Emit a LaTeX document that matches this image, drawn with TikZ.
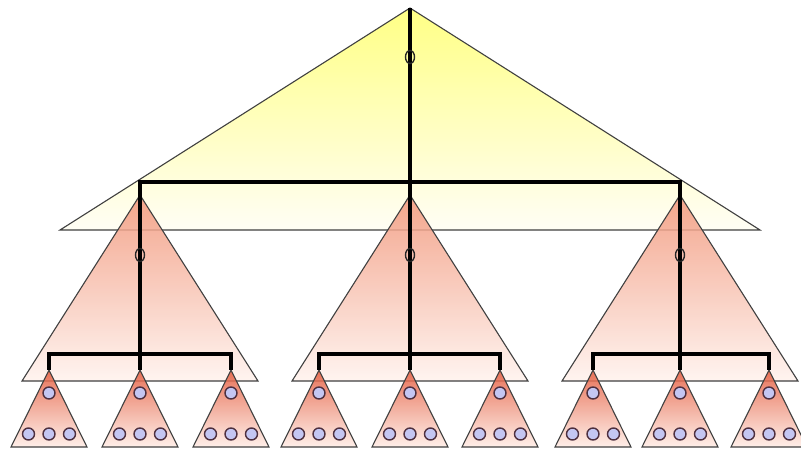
\documentclass[tikz,border=0pt]{standalone}
\usetikzlibrary{shapes.geometric}
\definecolor{yeltop}{HTML}{FFFF70}
\definecolor{yelbot}{HTML}{FFFEF4}
\definecolor{midtop}{HTML}{F2967A}
\definecolor{midbot}{HTML}{FFF3EE}
\definecolor{smtop}{HTML}{E45A3C}
\definecolor{smbot}{HTML}{FFEDE6}
\definecolor{dotfill}{HTML}{C4C6F2}
\definecolor{dotline}{HTML}{4E3040}
\begin{document}
\begin{tikzpicture}[x=1pt,y=-1pt,
  tri/.style={draw=black!75, line width=1.1pt, fill opacity=0.85},
  bigtri/.style={tri, top color=yeltop, bottom color=yelbot},
  midtri/.style={tri, top color=midtop, bottom color=midbot},
  smtri/.style={tri, top color=smtop, bottom color=smbot},
  link/.style={line width=3.2pt, black},
  oval/.style={ellipse, draw=black!85, line width=1.4pt, minimum width=9pt, minimum height=13pt, inner sep=0pt},
  leaf/.style={circle, draw=dotline, fill=dotfill, line width=1.4pt, minimum size=12pt, inner sep=0pt}]
\useasboundingbox (0,0) rectangle (801,450);
\fill[white] (0,0) rectangle (801,450);

% big triangle
\draw[bigtri] (410,8) -- (60,230) -- (760,230) -- cycle;

% medium triangles
\foreach \c in {140,410,680}{
  \draw[midtri] (\c,195) -- (\c-118,381) -- (\c+118,381) -- cycle;
}

% small triangles
\foreach \s [count=\i] in {49,140,231,319,410,500,593,680,769}{
  \draw[smtri] (\s,370) -- (\s-38,447) -- (\s+38,447) -- cycle;
  \node[leaf] (t\i) at (\s,393) {};
  \node[leaf] (l\i a) at (\s-20.5,434) {};
  \node[leaf] (l\i b) at (\s,434) {};
  \node[leaf] (l\i c) at (\s+20.5,434) {};
  \coordinate (s\i) at (\s,370);
}

% tree coordinates
\coordinate (root) at (410,8);
\coordinate (h1) at (140,182);
\coordinate (h2) at (410,182);
\coordinate (h3) at (680,182);
\coordinate (g1) at (140,354);
\coordinate (g2) at (410,354);
\coordinate (g3) at (680,354);
\coordinate (g1l) at (49,354);
\coordinate (g1r) at (231,354);
\coordinate (g2l) at (319,354);
\coordinate (g2r) at (500,354);
\coordinate (g3l) at (593,354);
\coordinate (g3r) at (769,354);

% connectors
\draw[link] (root) -- (g2);
\draw[link, line cap=rect] (h1) -- (h3);
\draw[link] (h1) -- (g1);
\draw[link] (h3) -- (g3);
\draw[link, line cap=rect] (g1l) -- (g1r);
\draw[link, line cap=rect] (g2l) -- (g2r);
\draw[link, line cap=rect] (g3l) -- (g3r);
\draw[link] (g1l) -- (s1);
\draw[link] (g1) -- (s2);
\draw[link] (g1r) -- (s3);
\draw[link] (g2l) -- (s4);
\draw[link] (g2) -- (s5);
\draw[link] (g2r) -- (s6);
\draw[link] (g3l) -- (s7);
\draw[link] (g3) -- (s8);
\draw[link] (g3r) -- (s9);

% internal node marks
\node[oval] (o0) at (410,57) {};
\node[oval] (o1) at (140,255) {};
\node[oval] (o2) at (410,255) {};
\node[oval] (o3) at (680,255) {};
\end{tikzpicture}
\end{document}
